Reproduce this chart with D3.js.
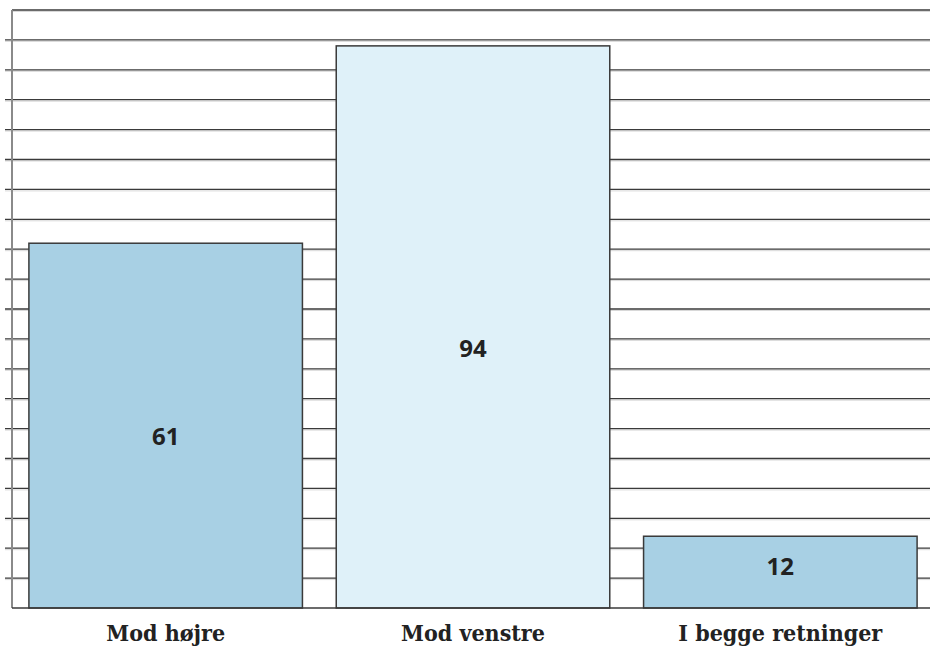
<!DOCTYPE html>
<html>
<head>
<meta charset="utf-8">
<script src="https://cdn.jsdelivr.net/npm/d3@7"></script>
<style>
  html, body { margin: 0; padding: 0; background: #fff; }
  svg { display: block; }
</style>
</head>
<body>
<svg id="chart" width="930" height="649"></svg>
<script>
const categories = ["Mod højre", "Mod venstre", "I begge retninger"];
const values = [61, 94, 12];
const barColors = ["#a8d0e4", "#dff1f9", "#a8d0e4"];
const yTicks = d3.range(5, 101, 5);

const svg = d3.select("#chart");
const margin = { left: 12, top: 10, bottom: 608 };

const y = d3.scaleLinear().domain([0, 100]).range([margin.bottom, margin.top]);
const x = d3.scaleBand().domain(categories).range([12, 934])
  .paddingInner(0.11).paddingOuter(0.055);

// gridlines with soft shadow
const grid = svg.append("g");
yTicks.forEach(t => {
  const x0 = t === 100 ? margin.left : 5;
  grid.append("line").attr("x1", x0).attr("x2", 930)
    .attr("y1", y(t) + 1.5).attr("y2", y(t) + 1.5)
    .attr("stroke", "#d8d8d8").attr("stroke-width", 1);
  grid.append("line").attr("x1", x0).attr("x2", 930)
    .attr("y1", y(t)).attr("y2", y(t))
    .attr("stroke", "#3a3a3a").attr("stroke-width", 1.3);
});

// left axis
svg.append("line").attr("x1", margin.left).attr("x2", margin.left)
  .attr("y1", y(100)).attr("y2", y(0))
  .attr("stroke", "#8a8a8a").attr("stroke-width", 2);

// bars
svg.append("g").selectAll("rect").data(values).join("rect")
  .attr("x", (d, i) => x(categories[i]))
  .attr("y", d => y(d))
  .attr("width", x.bandwidth())
  .attr("height", d => y(0) - y(d))
  .attr("fill", (d, i) => barColors[i])
  .attr("stroke", "#3a3a3a").attr("stroke-width", 1.5);

// baseline
svg.append("line").attr("x1", margin.left).attr("x2", 930)
  .attr("y1", y(0)).attr("y2", y(0))
  .attr("stroke", "#3a3a3a").attr("stroke-width", 1.5);

// value labels (placed a little below the bar middle, as in the original)
svg.append("g").selectAll("text").data(values).join("text")
  .attr("x", (d, i) => x(categories[i]) + x.bandwidth() / 2)
  .attr("y", d => y(d * 0.445 + 1.7) + 9)
  .attr("text-anchor", "middle")
  .attr("font-family", "'Open Sans', sans-serif")
  .attr("font-weight", 700)
  .attr("font-size", 24)
  .attr("fill", "#222")
  .text(d => d);

// category labels
svg.append("g").selectAll("text").data(categories).join("text")
  .attr("x", d => x(d) + x.bandwidth() / 2)
  .attr("y", 641)
  .attr("text-anchor", "middle")
  .attr("font-family", "'DejaVu Serif Condensed', 'Liberation Serif', serif")
  .attr("font-weight", 700)
  .attr("font-size", 23)
  .attr("fill", "#222")
  .text(d => d);
</script>
</body>
</html>
